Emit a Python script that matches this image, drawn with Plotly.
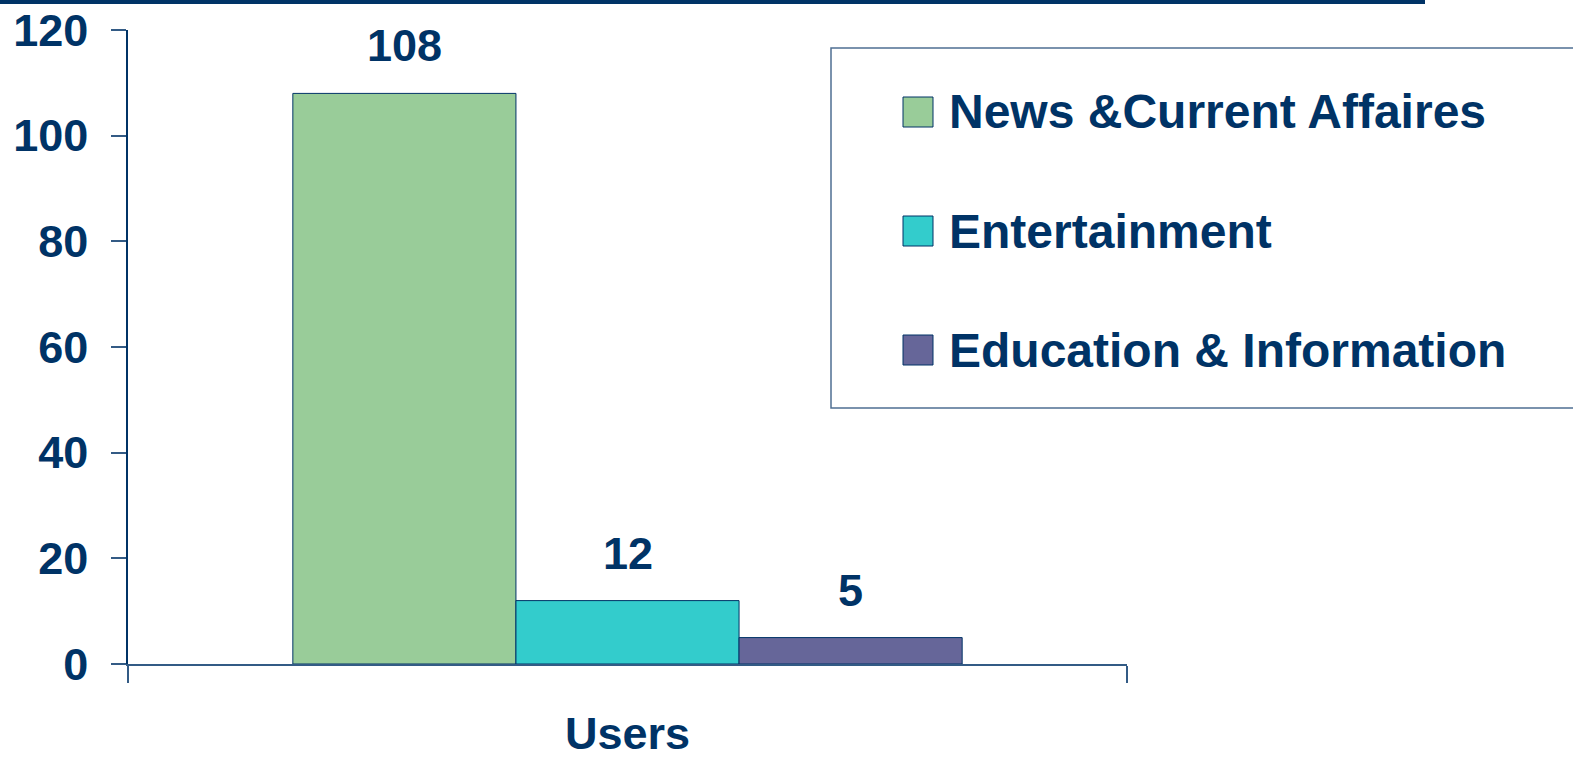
import plotly.graph_objects as go

categories = ["Users"]
series_names = ["News &Current Affaires", "Entertainment", "Education & Information"]
series_values = [[108], [12], [5]]
series_colors = ["#99CC99", "#33CCCC", "#666699"]
y_ticks = [0, 20, 40, 60, 80, 100, 120]

NAVY = "#003366"
FONT = "Liberation Sans, Arial, sans-serif"
W, H = 1573, 761
L, R, T, B = 128, 446, 30, 97
BARGAP = 0.33

fig = go.Figure()
for name, vals, col in zip(series_names, series_values, series_colors):
    fig.add_trace(go.Bar(
        x=categories, y=vals, name=name,
        marker=dict(color=col, line=dict(color=NAVY, width=1)),
        showlegend=False,
    ))

pw = W - L - R
ph = H - T - B
def px_x(p):
    return (p - L) / pw
def px_y(p):
    return (H - B - p) / ph

n = len(series_names)
annotations = []
# value labels
for i, vals in enumerate(series_values):
    off = (i - (n - 1) / 2) * (1 - BARGAP) / n
    for ci, v in enumerate(vals):
        annotations.append(dict(
            x=ci + off, y=v, xref="x", yref="y", text=f"<b>{v}</b>",
            showarrow=False, yanchor="bottom", yshift=20,
            font=dict(family=FONT, size=45, color=NAVY),
        ))

shapes = []
# top banner line
shapes.append(dict(type="rect", xref="paper", yref="paper",
                   x0=px_x(0), x1=px_x(1425), y0=px_y(4), y1=px_y(-2),
                   fillcolor=NAVY, line=dict(width=0), layer="above"))
# legend box
shapes.append(dict(type="rect", xref="paper", yref="paper",
                   x0=px_x(831), x1=px_x(1590), y0=px_y(408), y1=px_y(48),
                   fillcolor="rgba(0,0,0,0)", line=dict(color="#4f6f92", width=1.5)))
# legend entries
leg_y = [112, 231, 350]
for name, col, yc in zip(series_names, series_colors, leg_y):
    shapes.append(dict(type="rect", xref="paper", yref="paper",
                       x0=px_x(903), x1=px_x(933), y0=px_y(yc + 15), y1=px_y(yc - 15),
                       fillcolor=col, line=dict(color=NAVY, width=1)))
    annotations.append(dict(x=px_x(947), y=px_y(yc), xref="paper", yref="paper",
                            text=f"<b>{name}</b>", showarrow=False,
                            xanchor="left", yanchor="middle",
                            font=dict(family=FONT, size=48, color=NAVY)))

fig.update_layout(
    width=W, height=H,
    margin=dict(l=L, r=R, t=T, b=B, pad=0),
    paper_bgcolor="white", plot_bgcolor="white",
    barmode="group", bargap=BARGAP, bargroupgap=0,
    showlegend=False,
    font=dict(family=FONT, color=NAVY),
    annotations=annotations, shapes=shapes,
    xaxis=dict(
        automargin=False,
        showline=True, linecolor="#335b85", linewidth=1.5,
        ticks="outside", tickson="boundaries", ticklen=17, tickcolor="#335b85", tickwidth=1.5,
        tickfont=dict(family=FONT, size=45, color=NAVY),
        ticklabelstandoff=29,
        showgrid=False, zeroline=False,
        tickprefix="<b>", ticksuffix="</b>",
    ),
    yaxis=dict(
        automargin=False,
        range=[0, 120], tickvals=y_ticks,
        ticktext=[f"<b>{v}</b>" for v in y_ticks],
        showline=True, linecolor=NAVY, linewidth=1.5,
        ticks="outside", ticklen=15, tickcolor="#335b85", tickwidth=1.5,
        tickfont=dict(family=FONT, size=45, color=NAVY),
        ticklabelstandoff=14,
        showgrid=False, zeroline=False,
    ),
)

fig.write_html(
    "out.html",
    config={"displayModeBar": False},
    post_script="document.body.style.margin='0';document.body.style.overflow='hidden';",
)
